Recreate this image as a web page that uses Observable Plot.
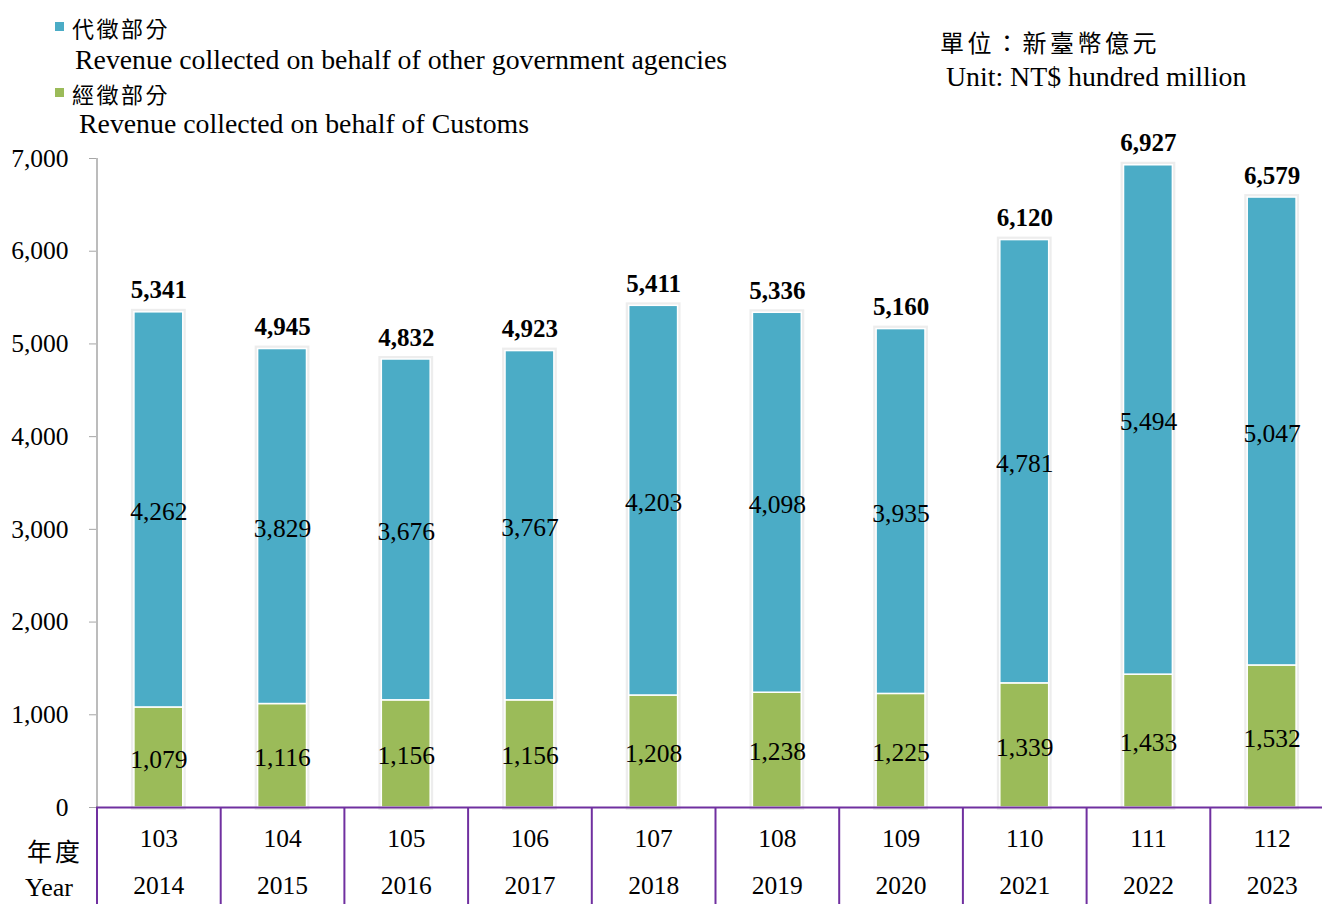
<!DOCTYPE html>
<html>
<head>
<meta charset="utf-8">
<script src="https://cdn.jsdelivr.net/npm/d3@7"></script>
<script src="https://cdn.jsdelivr.net/npm/@observablehq/plot@0.6"></script>
<style>
  html, body { margin: 0; padding: 0; background: #fff; }
  #wrap { position: relative; width: 1322px; height: 904px; overflow: hidden;
          font-family: "Liberation Serif", "Noto Sans CJK TC", serif; color: #000; }
  .lbl { position: absolute; white-space: nowrap; line-height: 1; }
  .sq { position: absolute; width: 9px; height: 9px; }
  .cjk { font-family: "Noto Sans CJK TC", sans-serif; }
</style>
</head>
<body>
<div id="wrap"></div>
<script>
// ---- data ----
const rocYears = ["103", "104", "105", "106", "107", "108", "109", "110", "111", "112"];
const adYears  = ["2014", "2015", "2016", "2017", "2018", "2019", "2020", "2021", "2022", "2023"];
const customsRevenue = [1079, 1116, 1156, 1156, 1208, 1238, 1225, 1339, 1433, 1532];   // 經徵部分
const agencyRevenue  = [4262, 3829, 3676, 3767, 4203, 4098, 3935, 4781, 5494, 5047];   // 代徵部分
const totals         = [5341, 4945, 4832, 4923, 5411, 5336, 5160, 6120, 6927, 6579];
const yTicks = [0, 1000, 2000, 3000, 4000, 5000, 6000, 7000];
const seriesNames = ["經徵部分", "代徵部分"];
const seriesColors = ["#9BBB59", "#4BACC6"];

const rows = [];
adYears.forEach((y, i) => {
  rows.push({year: y, series: seriesNames[0], value: customsRevenue[i]});
  rows.push({year: y, series: seriesNames[1], value: agencyRevenue[i]});
});
const totalRows = adYears.map((y, i) => ({year: y, total: totals[i]}));
const rocOf = Object.fromEntries(adYears.map((y, i) => [y, rocYears[i]]));

const fmt = d3.format(",");
const xRange = [96.5, 1333.5];
const step = (xRange[1] - xRange[0]) / adYears.length;
const FS = 25.5;

const chart = Plot.plot({
  width: 1322,
  height: 904,
  marginTop: 158,
  marginBottom: 97,
  marginLeft: 96,
  marginRight: 0,
  style: {fontFamily: "'Liberation Serif', 'Noto Sans CJK TC', serif", fontSize: FS + "px", color: "#000", background: "transparent", overflow: "visible"},
  x: {domain: adYears, range: xRange, round: false, paddingInner: 0.605, paddingOuter: 0.3025, axis: null},
  y: {domain: [0, 7000], axis: null},
  color: {domain: seriesNames, range: seriesColors},
  marks: [
    // soft shadow around bars
    Plot.barY(totalRows, {x: "year", y: "total", fill: "none", stroke: "#000", strokeOpacity: 0.07, strokeWidth: 6}),
    Plot.barY(rows, Plot.stackY({x: "year", y: "value", fill: "series", order: seriesNames, stroke: "#fff", strokeWidth: 1.5})),
    // y axis
    Plot.axisY({ticks: yTicks, tickFormat: fmt, tickSize: 7, tickPadding: 21, stroke: "#a6a6a6", fontSize: FS, label: null}),
    Plot.ruleX([adYears[0]], {x: d => d, dx: -step / 2, y1: yTicks[0], y2: yTicks[yTicks.length - 1], stroke: "#a6a6a6", strokeWidth: 1.5}),
    // x axis baseline
    Plot.ruleY([0], {stroke: "#7030A0", strokeWidth: 2}),
    // category separators below axis
    Plot.axisX({tickSize: 97, dx: -step / 2, tickFormat: () => "", stroke: "#7030A0", strokeWidth: 2, label: null}),
    // category labels
    Plot.text(adYears, {x: d => d, text: d => rocOf[d], frameAnchor: "bottom", dy: 31, lineAnchor: "middle", fontSize: FS}),
    Plot.text(adYears, {x: d => d, text: d => d, frameAnchor: "bottom", dy: 78, lineAnchor: "middle", fontSize: FS}),
    // segment labels
    Plot.text(rows, Plot.stackY({x: "year", y: "value", z: "series", order: seriesNames, text: d => fmt(d.value), fill: "#000", fontSize: FS, dy: 2})),
    // totals
    Plot.text(totalRows, {x: "year", y: "total", text: d => fmt(d.total), dy: -22, fontWeight: "bold", fontSize: 25, fill: "#000"})
  ]
});

const wrap = document.getElementById("wrap");
wrap.appendChild(chart);

function addLabel(text, x, yCenter, size, cls, spacing) {
  const el = document.createElement("div");
  el.className = "lbl" + (cls ? " " + cls : "");
  el.textContent = text;
  el.style.left = x + "px";
  el.style.top = (yCenter - size / 2) + "px";
  el.style.fontSize = size + "px";
  if (spacing) el.style.letterSpacing = spacing + "px";
  wrap.appendChild(el);
}
function addSquare(color, x, y) {
  const el = document.createElement("div");
  el.className = "sq";
  el.style.background = color;
  el.style.left = x + "px";
  el.style.top = y + "px";
  wrap.appendChild(el);
}
// legend
addSquare(seriesColors[1], 55, 22);
addLabel("代徵部分", 72, 27, 22, "cjk", 2.5);
addLabel("Revenue collected on behalf of other government agencies", 75, 60, 27.8);
addSquare(seriesColors[0], 55, 88);
addLabel("經徵部分", 72, 93, 22, "cjk", 2.5);
addLabel("Revenue collected on behalf of Customs", 79, 124, 27.8);
// unit
addLabel("單位：新臺幣億元", 940, 42, 24, "cjk", 3.5);
addLabel("Unit: NT$ hundred million", 946, 77, 27.8);
// axis title
addLabel("年度", 27, 850, 25, "cjk", 3);
addLabel("Year", 25, 888, 26);
</script>
</body>
</html>
